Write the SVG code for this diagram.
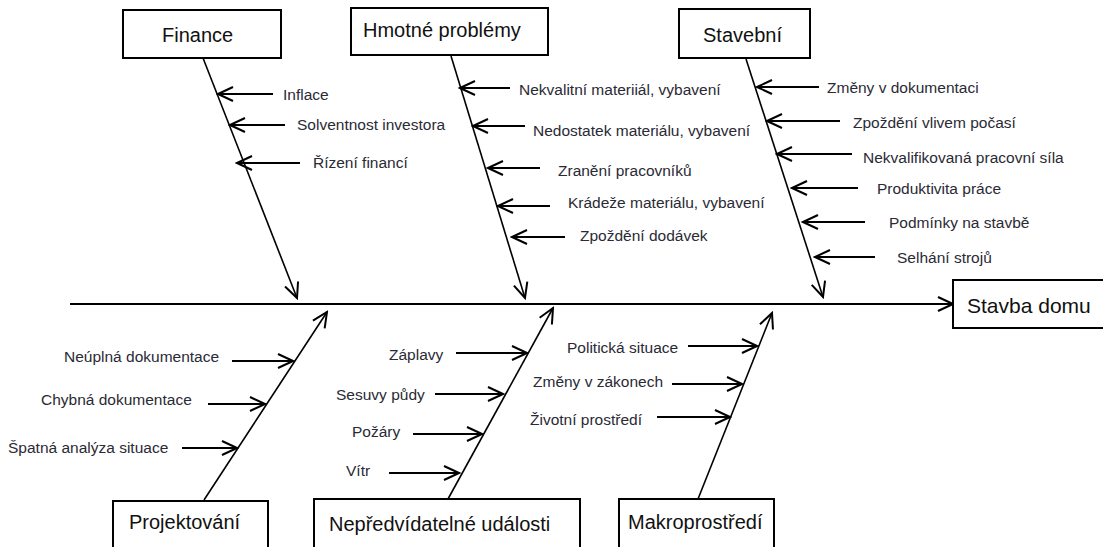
<svg xmlns="http://www.w3.org/2000/svg" width="1103" height="547" viewBox="0 0 1103 547">
  <style>
    .box { fill: #fff; stroke: #000; stroke-width: 2; }
    .title { font-family: "Liberation Sans", Arial, sans-serif; font-size: 20px; fill: #111; }
    .cause { font-family: "Liberation Sans", Arial, sans-serif; font-size: 15.5px; fill: #2a2a35; }
    .bone { stroke: #000; stroke-width: 1.6; fill: none; marker-end: url(#ah); }
    .sub { stroke: #000; stroke-width: 2; fill: none; marker-end: url(#ah); }
  </style>
  <defs>
    <marker id="ah" markerUnits="userSpaceOnUse" markerWidth="20" markerHeight="20" viewBox="-18 -10 20 20" refX="0" refY="0" orient="auto">
      <path d="M-15,-7 L0,0 L-15,7" fill="none" stroke="#000" stroke-width="2"/>
    </marker>
  </defs>
  <rect width="1103" height="547" fill="#fff"/>

  <!-- connectors: spine, category bones and cause arrows -->
  <g id="connectors">
    <line class="sub" x1="70" y1="304" x2="953" y2="304"/>

    <!-- upper bones -->
    <line class="bone" x1="203" y1="58" x2="297" y2="298"/>
    <line class="bone" x1="451" y1="56" x2="525" y2="298"/>
    <line class="bone" x1="746" y1="59" x2="823" y2="297"/>

    <!-- lower bones -->
    <line class="bone" x1="204" y1="500" x2="327" y2="312"/>
    <line class="bone" x1="448" y1="499" x2="553" y2="308"/>
    <line class="bone" x1="698" y1="499" x2="772" y2="313"/>

    <!-- Finance causes -->
    <line class="sub" x1="273" y1="94" x2="218" y2="94"/>
    <line class="sub" x1="285" y1="125" x2="230" y2="125"/>
    <line class="sub" x1="300" y1="163" x2="237" y2="163"/>

    <!-- Hmotné problémy causes -->
    <line class="sub" x1="510" y1="88" x2="460" y2="88"/>
    <line class="sub" x1="525" y1="126" x2="473" y2="126"/>
    <line class="sub" x1="540" y1="168" x2="488" y2="168"/>
    <line class="sub" x1="550" y1="206" x2="498" y2="206"/>
    <line class="sub" x1="565" y1="237" x2="512" y2="237"/>

    <!-- Stavební causes -->
    <line class="sub" x1="819" y1="87" x2="757" y2="87"/>
    <line class="sub" x1="840" y1="121" x2="767" y2="121"/>
    <line class="sub" x1="852" y1="154" x2="777" y2="154"/>
    <line class="sub" x1="858" y1="188" x2="792" y2="188"/>
    <line class="sub" x1="865" y1="222" x2="803" y2="222"/>
    <line class="sub" x1="875" y1="257" x2="815" y2="257"/>

    <!-- Projektování causes -->
    <line class="sub" x1="232" y1="361" x2="293" y2="361"/>
    <line class="sub" x1="208" y1="404" x2="265" y2="404"/>
    <line class="sub" x1="182" y1="448" x2="237" y2="448"/>

    <!-- Nepředvídatelné události causes -->
    <line class="sub" x1="456" y1="353" x2="527" y2="353"/>
    <line class="sub" x1="435" y1="394" x2="503" y2="394"/>
    <line class="sub" x1="413" y1="434" x2="482" y2="434"/>
    <line class="sub" x1="389" y1="473" x2="459" y2="473"/>

    <!-- Makroprostředí causes -->
    <line class="sub" x1="688" y1="346" x2="757" y2="346"/>
    <line class="sub" x1="672" y1="384" x2="742" y2="384"/>
    <line class="sub" x1="657" y1="417" x2="730" y2="417"/>
  </g>

  <!-- category and effect boxes -->
  <g id="finance">
    <rect class="box" x="123" y="10" width="158" height="48"/>
    <text class="title" x="162" y="42">Finance</text>
  </g>
  <g id="hmotne">
    <rect class="box" x="351" y="8" width="197" height="47"/>
    <text class="title" x="363" y="37">Hmotné problémy</text>
  </g>
  <g id="stavebni">
    <rect class="box" x="679" y="9" width="131" height="49"/>
    <text class="title" x="703" y="42">Stavební</text>
  </g>
  <g id="stavba-domu">
    <rect class="box" x="953" y="280" width="160" height="48"/>
    <text class="title" x="967" y="313" style="font-size:21px">Stavba domu</text>
  </g>
  <g id="projektovani">
    <rect class="box" x="113" y="501" width="155" height="60"/>
    <text class="title" x="129" y="529">Projektování</text>
  </g>
  <g id="nepredvidatelne">
    <rect class="box" x="314" y="499" width="266" height="60"/>
    <text class="title" x="329" y="531">Nepředvídatelné události</text>
  </g>
  <g id="makroprostredi">
    <rect class="box" x="619" y="499" width="155" height="60"/>
    <text class="title" x="628" y="529">Makroprostředí</text>
  </g>

  <!-- cause labels -->
  <g id="finance-causes" class="cause">
    <text x="283" y="100">Inflace</text>
    <text x="297" y="130">Solventnost investora</text>
    <text x="313" y="168">Řízení financí</text>
  </g>
  <g id="hmotne-causes" class="cause">
    <text x="519" y="95">Nekvalitní materiiál, vybavení</text>
    <text x="533" y="136">Nedostatek materiálu, vybavení</text>
    <text x="558" y="176">Zranění pracovníků</text>
    <text x="568" y="208">Krádeže materiálu, vybavení</text>
    <text x="580" y="241">Zpoždění dodávek</text>
  </g>
  <g id="stavebni-causes" class="cause">
    <text x="827" y="93">Změny v dokumentaci</text>
    <text x="853" y="128">Zpoždění vlivem počasí</text>
    <text x="863" y="163">Nekvalifikovaná pracovní síla</text>
    <text x="877" y="194">Produktivita práce</text>
    <text x="889" y="228">Podmínky na stavbě</text>
    <text x="897" y="263">Selhání strojů</text>
  </g>
  <g id="projektovani-causes" class="cause">
    <text x="64" y="362">Neúplná dokumentace</text>
    <text x="41" y="405">Chybná dokumentace</text>
    <text x="8" y="453">Špatná analýza situace</text>
  </g>
  <g id="nepredvidatelne-causes" class="cause">
    <text x="389" y="360">Záplavy</text>
    <text x="336" y="400">Sesuvy půdy</text>
    <text x="352" y="437">Požáry</text>
    <text x="346" y="476">Vítr</text>
  </g>
  <g id="makroprostredi-causes" class="cause">
    <text x="567" y="353">Politická situace</text>
    <text x="533" y="387">Změny v zákonech</text>
    <text x="530" y="425">Životní prostředí</text>
  </g>
</svg>
